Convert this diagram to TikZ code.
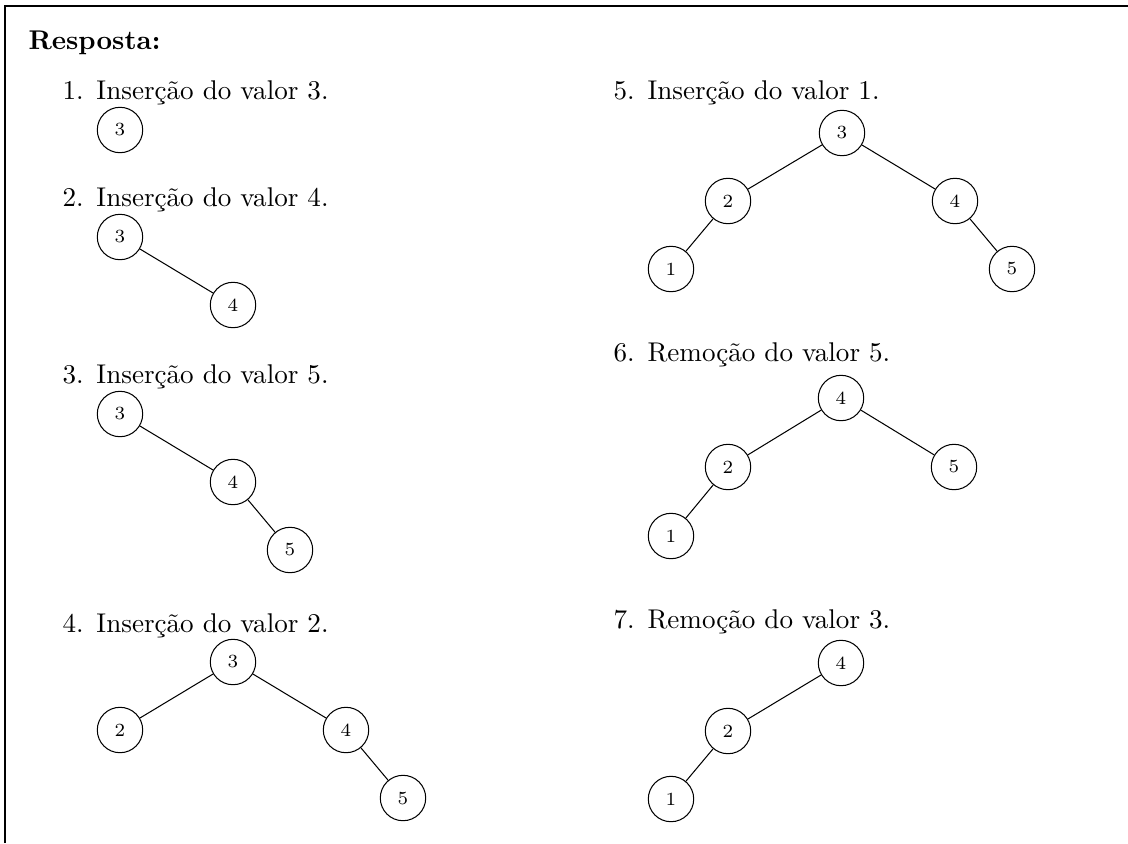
\documentclass[tikz,border=0pt]{standalone}
\begin{document}
\begin{tikzpicture}[
  x={(0.3876pt,0)}, y={(0,-0.3876pt)},
  vtx/.style={circle, draw, line width=0.4pt, minimum size=17.6pt, inner sep=0pt, font=\fontsize{7.2}{8}\selectfont},
  edge/.style={line width=0.4pt},
  item/.style={anchor=base west, inner sep=0pt, font=\fontsize{10.5}{12.6}\selectfont},
  frameline/.style={line width=0.6pt}
]
\useasboundingbox (0,0) rectangle (1128,843);

% frame of the answer box
\coordinate (ftl) at (5,6);
\coordinate (ftr) at (1128,6);
\coordinate (fbl) at (5,843);
\draw[frameline] (fbl) -- (ftl) -- (ftr);

\node[item] (title) at (28,49) {\textbf{Resposta:}};

% ---- left column ----
\node[item] (i1) at (62,99) {1.\hspace{5pt}Inserção do valor 3.};
\node[vtx] (a3) at (120,130) {3};

\node[item] (i2) at (62,206) {2.\hspace{5pt}Inserção do valor 4.};
\node[vtx] (b3) at (120,237) {3};
\node[vtx] (b4) at (233,305) {4};
\draw[edge] (b3) -- (b4);

\node[item] (i3) at (62,383) {3.\hspace{5pt}Inserção do valor 5.};
\node[vtx] (c3) at (120,414) {3};
\node[vtx] (c4) at (233,482) {4};
\node[vtx] (c5) at (290,550) {5};
\draw[edge] (c3) -- (c4);
\draw[edge] (c4) -- (c5);

\node[item] (i4) at (62,632) {4.\hspace{5pt}Inserção do valor 2.};
\node[vtx] (d3) at (233,662) {3};
\node[vtx] (d2) at (120,730) {2};
\node[vtx] (d4) at (346,730) {4};
\node[vtx] (d5) at (403,798) {5};
\draw[edge] (d3) -- (d2);
\draw[edge] (d3) -- (d4);
\draw[edge] (d4) -- (d5);

% ---- right column ----
\node[item] (i5) at (613,99) {5.\hspace{5pt}Inserção do valor 1.};
\node[vtx] (e3) at (842,133) {3};
\node[vtx] (e2) at (728,201) {2};
\node[vtx] (e4) at (955,201) {4};
\node[vtx] (e1) at (671,269) {1};
\node[vtx] (e5) at (1012,269) {5};
\draw[edge] (e3) -- (e2);
\draw[edge] (e3) -- (e4);
\draw[edge] (e2) -- (e1);
\draw[edge] (e4) -- (e5);

\node[item] (i6) at (613,361) {6.\hspace{5pt}Remoção do valor 5.};
\node[vtx] (f4) at (841,398) {4};
\node[vtx] (f2) at (728,467) {2};
\node[vtx] (f5) at (954,467) {5};
\node[vtx] (f1) at (671,536) {1};
\draw[edge] (f4) -- (f2);
\draw[edge] (f4) -- (f5);
\draw[edge] (f2) -- (f1);

\node[item] (i7) at (613,628) {7.\hspace{5pt}Remoção do valor 3.};
\node[vtx] (g4) at (841,663) {4};
\node[vtx] (g2) at (728,731) {2};
\node[vtx] (g1) at (671,799) {1};
\draw[edge] (g4) -- (g2);
\draw[edge] (g2) -- (g1);
\end{tikzpicture}
\end{document}
